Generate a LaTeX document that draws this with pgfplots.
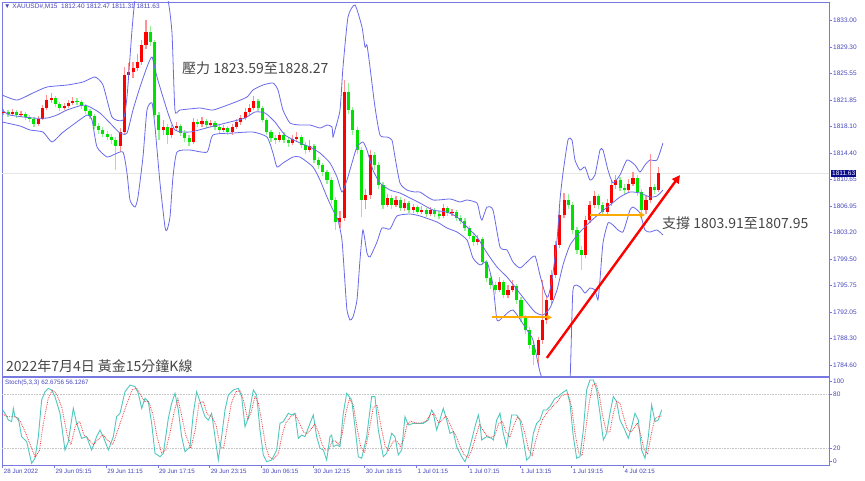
\documentclass[border=0pt]{standalone}
\usepackage{fontspec}
\setmainfont{Liberation Sans}
\newfontfamily\cjk{Noto Sans CJK TC}
\usepackage{pgfplots}
\usepackage{pgfplotstable}
\pgfplotsset{compat=1.18}
\usetikzlibrary{arrows.meta}

\definecolor{frameblue}{RGB}{120,120,225}
\definecolor{tickblue}{RGB}{70,70,190}
\definecolor{bband}{RGB}{105,105,235}
\definecolor{upbody}{RGB}{255,0,0}
\definecolor{upwick}{RGB}{255,145,145}
\definecolor{dnbody}{RGB}{0,225,0}
\definecolor{dnwick}{RGB}{145,240,145}
\definecolor{stk}{RGB}{80,200,190}
\definecolor{stdline}{RGB}{240,60,60}
\definecolor{notegray}{RGB}{70,70,70}
\definecolor{arroworange}{RGB}{255,170,0}
\definecolor{pricebox}{RGB}{10,10,140}

% 30-minute candles (two M15 bars each), k = candle index, u = 1 for a rising candle
\pgfplotstableread{
k o h l c u
0 1820.00 1820.60 1819.70 1820.17 1
1 1820.17 1820.50 1819.50 1819.88 0
2 1819.88 1820.60 1819.60 1820.17 1
3 1820.17 1820.40 1819.30 1819.74 0
4 1819.74 1820.30 1819.40 1819.88 1
5 1819.88 1820.10 1819.00 1819.46 0
6 1819.46 1819.80 1818.80 1819.18 0
7 1819.18 1819.40 1818.10 1818.48 0
8 1818.48 1819.60 1818.20 1819.18 1
9 1819.18 1821.10 1819.00 1820.73 1
10 1820.73 1822.50 1820.50 1821.85 1
11 1821.85 1822.80 1821.50 1822.13 1
12 1822.13 1822.40 1820.90 1821.29 0
13 1821.29 1821.60 1820.30 1820.73 0
14 1820.73 1821.50 1820.40 1821.01 1
15 1821.01 1821.90 1820.70 1821.43 1
16 1821.43 1822.30 1821.20 1821.71 1
17 1821.71 1822.10 1821.10 1821.57 0
18 1821.57 1821.90 1820.60 1821.01 0
19 1821.01 1821.30 1819.90 1820.31 0
20 1820.31 1820.60 1819.20 1819.60 0
21 1819.60 1819.90 1817.80 1818.20 0
22 1818.20 1818.60 1817.10 1817.64 0
23 1817.64 1818.00 1816.60 1817.07 0
24 1817.07 1817.50 1816.20 1816.65 0
25 1816.65 1817.10 1815.60 1816.23 0
26 1816.23 1816.60 1812.00 1815.39 0
27 1815.39 1817.90 1814.60 1817.40 1
28 1817.40 1826.50 1817.00 1825.37 1
29 1825.37 1827.00 1824.60 1825.79 1
30 1825.79 1827.20 1825.00 1826.35 1
31 1826.35 1828.30 1825.90 1827.19 1
32 1827.19 1830.30 1826.80 1829.58 1
33 1829.58 1833.10 1829.00 1831.41 1
34 1831.41 1832.20 1829.50 1830.01 0
35 1830.01 1830.30 1819.30 1819.74 0
36 1819.74 1820.20 1816.30 1817.64 0
37 1817.64 1819.00 1816.90 1818.06 1
38 1818.06 1818.50 1815.70 1816.93 0
39 1816.93 1818.40 1816.50 1817.92 1
40 1817.92 1818.80 1817.50 1818.20 1
41 1818.20 1818.50 1816.80 1817.21 0
42 1817.21 1817.60 1816.00 1816.51 0
43 1816.51 1816.90 1815.40 1815.95 0
44 1815.95 1819.30 1815.60 1818.76 1
45 1818.76 1819.20 1818.00 1818.48 0
46 1818.48 1819.40 1818.10 1818.90 1
47 1818.90 1819.20 1817.90 1818.34 0
48 1818.34 1819.10 1818.00 1818.62 1
49 1818.62 1818.90 1817.60 1818.06 0
50 1818.06 1818.40 1817.20 1817.64 0
51 1817.64 1818.40 1817.30 1817.92 1
52 1817.92 1818.20 1816.90 1817.35 0
53 1817.35 1818.50 1817.00 1818.06 1
54 1818.06 1819.20 1817.80 1818.76 1
55 1818.76 1819.80 1818.40 1819.32 1
56 1819.32 1820.70 1819.00 1820.17 1
57 1820.17 1821.30 1819.80 1820.73 1
58 1820.73 1822.40 1820.40 1821.71 1
59 1821.71 1822.00 1820.30 1820.73 0
60 1820.73 1821.00 1818.70 1819.04 0
61 1819.04 1819.30 1817.00 1817.35 0
62 1817.35 1817.70 1816.00 1816.51 0
63 1816.51 1817.00 1815.70 1816.23 0
64 1816.23 1817.40 1815.90 1816.93 1
65 1816.93 1817.30 1815.80 1816.23 0
66 1816.23 1816.70 1815.30 1815.81 0
67 1815.81 1816.90 1815.50 1816.37 1
68 1816.37 1817.40 1816.00 1816.65 1
69 1816.65 1817.00 1815.10 1815.53 0
70 1815.53 1815.90 1814.30 1814.82 0
71 1814.82 1816.30 1814.50 1815.39 1
72 1815.39 1815.70 1813.00 1813.42 0
73 1813.42 1813.90 1812.20 1812.72 0
74 1812.72 1813.00 1811.20 1811.73 0
75 1811.73 1812.00 1810.00 1810.61 0
76 1810.61 1811.00 1807.20 1807.80 0
77 1807.80 1808.20 1803.60 1804.70 0
78 1804.70 1806.20 1803.90 1805.30 1
79 1805.30 1824.66 1804.90 1822.98 1
80 1822.98 1824.30 1819.90 1820.45 0
81 1820.45 1820.90 1817.00 1817.64 0
82 1817.64 1818.00 1814.20 1814.82 0
83 1814.82 1815.30 1805.40 1807.80 0
84 1807.80 1809.40 1806.60 1808.50 1
85 1808.50 1814.80 1808.00 1814.12 1
86 1814.12 1814.60 1812.00 1812.72 0
87 1812.72 1813.10 1809.30 1809.90 0
88 1809.90 1810.30 1806.60 1807.09 0
89 1807.09 1808.70 1806.80 1808.08 1
90 1808.08 1808.50 1806.60 1807.09 0
91 1807.09 1808.40 1806.80 1807.80 1
92 1807.80 1808.20 1806.20 1806.67 0
93 1806.67 1807.90 1806.30 1807.37 1
94 1807.37 1807.70 1806.00 1806.39 0
95 1806.39 1807.30 1806.00 1806.81 1
96 1806.81 1807.10 1805.80 1806.11 0
97 1806.11 1806.90 1805.80 1806.39 1
98 1806.39 1806.70 1805.40 1805.83 0
99 1805.83 1806.80 1805.50 1806.39 1
100 1806.39 1806.70 1805.40 1805.83 0
101 1805.83 1806.20 1805.10 1805.55 0
102 1805.55 1807.20 1805.20 1806.67 1
103 1806.67 1807.00 1805.60 1805.97 0
104 1805.97 1806.60 1805.60 1806.11 1
105 1806.11 1806.40 1804.80 1805.27 0
106 1805.27 1805.70 1804.40 1804.84 0
107 1804.84 1805.20 1803.40 1803.86 0
108 1803.86 1804.20 1802.30 1802.74 0
109 1802.74 1803.10 1801.40 1801.89 0
110 1801.89 1802.90 1801.50 1802.30 1
111 1802.30 1802.60 1798.60 1799.08 0
112 1799.08 1799.40 1796.30 1796.83 0
113 1796.83 1797.40 1795.30 1795.85 0
114 1795.85 1796.30 1794.60 1795.14 0
115 1795.14 1797.00 1794.80 1796.27 1
116 1796.27 1796.60 1794.00 1794.44 0
117 1794.44 1795.80 1794.00 1795.14 1
118 1795.14 1796.60 1794.80 1795.71 1
119 1795.71 1796.00 1793.20 1793.74 0
120 1793.74 1794.10 1790.70 1791.21 0
121 1791.21 1791.60 1789.00 1789.52 0
122 1789.52 1789.90 1786.90 1787.41 0
123 1787.41 1787.80 1784.60 1786.01 0
124 1786.01 1788.60 1784.30 1788.12 1
125 1788.12 1796.50 1787.60 1790.93 1
126 1790.93 1794.40 1790.40 1793.74 1
127 1793.74 1797.90 1793.20 1797.25 1
128 1797.25 1802.10 1796.80 1801.47 1
129 1801.47 1806.50 1801.00 1805.69 1
130 1805.69 1808.80 1805.20 1807.80 1
131 1807.80 1808.60 1806.50 1807.09 0
132 1807.09 1807.50 1803.00 1803.58 0
133 1803.58 1804.00 1800.20 1800.77 0
134 1800.77 1801.30 1797.96 1800.06 0
135 1800.06 1805.50 1799.60 1804.98 1
136 1804.98 1807.70 1804.50 1807.09 1
137 1807.09 1809.00 1806.70 1808.36 1
138 1808.36 1808.70 1806.60 1807.09 0
139 1807.09 1807.50 1805.60 1806.11 0
140 1806.11 1808.00 1805.80 1807.37 1
141 1807.37 1810.50 1807.00 1809.90 1
142 1809.90 1811.30 1809.40 1810.61 1
143 1810.61 1811.00 1809.00 1809.48 0
144 1809.48 1810.00 1808.70 1809.20 0
145 1809.20 1810.70 1808.90 1810.05 1
146 1810.05 1811.80 1809.70 1810.89 1
147 1810.89 1811.30 1808.40 1808.92 0
148 1808.92 1809.30 1805.90 1806.39 0
149 1806.39 1808.30 1805.90 1807.80 1
150 1807.80 1814.26 1807.40 1809.62 1
151 1809.62 1810.10 1808.70 1809.20 0
152 1809.20 1812.47 1808.90 1811.63 1
}\candles

\pgfplotstableread{
k p
-0.4 1822.56
3.07 1821.85
6.78 1822.84
10.03 1823.68
14.67 1823.96
18.38 1824.38
21.16 1825.09
23.02 1823.96
25.11 1819.46
27.66 1819.04
28.59 1822.27
29.75 1831.69
30.45 1835.91
31.61 1837.60
33.93 1838.72
36.25 1838.02
38.10 1835.91
39.03 1831.27
39.72 1820.45
40.89 1820.45
45.53 1820.73
48.54 1820.45
53.18 1821.43
56.43 1822.27
57.82 1823.26
60.14 1823.96
62.46 1824.24
63.62 1823.26
64.78 1820.45
66.41 1818.62
68.73 1818.34
71.05 1818.34
73.37 1817.92
75.00 1818.34
76.15 1818.06
76.38 1816.65
76.85 1817.64
78.01 1820.45
78.71 1826.49
79.87 1833.52
81.49 1835.21
83.11 1832.11
83.81 1829.30
84.27 1829.58
84.97 1826.49
86.13 1820.87
87.29 1816.93
88.91 1816.65
90.07 1816.23
90.77 1813.84
91.93 1810.19
93.55 1809.20
95.41 1808.92
96.57 1808.92
99.59 1807.80
103.53 1807.94
105.85 1807.52
107.48 1807.80
109.80 1807.37
110.49 1805.69
110.96 1804.98
112.12 1806.81
113.51 1806.39
115.14 1801.19
116.76 1800.77
118.15 1799.08
119.77 1798.24
121.40 1799.08
123.25 1799.92
124.41 1797.25
125.57 1794.72
126.27 1794.16
127.20 1796.55
128.36 1802.17
129.05 1807.80
129.75 1811.59
130.91 1816.23
131.84 1816.23
132.53 1813.42
133.69 1812.01
134.85 1812.44
136.01 1810.61
137.17 1811.31
138.33 1814.82
139.03 1814.82
140.19 1812.01
141.35 1810.19
142.97 1811.31
144.60 1813.42
146.45 1812.72
147.61 1811.73
148.77 1812.72
149.93 1813.42
151.56 1813.42
152.95 1815.81
}\bbup

\pgfplotstableread{
k p
-0.4 1820.45
1.44 1819.74
6.78 1819.32
10.03 1819.32
12.35 1819.74
14.67 1820.45
18.38 1821.15
20.00 1820.87
22.32 1820.03
24.64 1818.62
26.96 1817.21
28.59 1817.21
29.98 1820.45
31.61 1823.68
33.23 1826.49
34.39 1827.90
35.55 1825.09
37.87 1820.45
39.72 1817.64
43.20 1817.35
47.84 1818.06
52.49 1818.76
55.97 1819.32
58.29 1820.17
60.61 1820.03
62.93 1818.76
65.25 1816.93
68.73 1815.81
71.05 1815.25
73.37 1814.40
75.69 1813.00
77.31 1811.03
78.47 1808.92
79.63 1810.61
80.79 1813.00
81.95 1815.25
83.34 1815.95
84.27 1814.82
85.66 1812.01
87.29 1810.19
89.61 1809.20
91.93 1808.78
94.25 1808.08
96.57 1807.37
99.59 1806.39
102.83 1806.11
105.15 1805.41
107.48 1804.00
109.80 1802.59
112.12 1800.35
114.44 1798.38
116.76 1796.97
118.62 1795.57
120.94 1793.74
123.25 1792.05
125.11 1791.63
126.73 1792.61
128.36 1795.15
129.75 1798.66
131.38 1801.47
133.69 1803.30
136.01 1804.70
138.33 1805.97
140.65 1807.09
142.97 1808.22
145.29 1808.92
147.61 1808.78
149.93 1808.22
151.56 1808.36
152.95 1809.20
}\bbmid

\pgfplotstableread{
k p
-0.4 1818.76
3.76 1818.20
6.08 1817.64
9.10 1817.35
11.19 1815.95
13.51 1817.21
15.36 1818.06
19.31 1819.74
20.47 1819.04
21.63 1815.25
23.95 1813.84
25.34 1814.12
27.66 1814.54
28.59 1811.59
29.29 1807.80
30.45 1806.81
31.14 1808.22
32.30 1813.84
33.23 1820.45
34.39 1821.43
35.09 1818.06
36.25 1810.19
37.41 1804.00
37.87 1803.58
38.57 1805.41
39.26 1811.03
40.19 1814.54
43.20 1814.82
47.15 1814.54
48.54 1816.93
53.18 1817.21
57.82 1817.35
61.07 1816.65
62.46 1814.40
63.39 1812.44
64.78 1813.00
67.10 1813.84
68.73 1813.84
71.74 1812.44
73.37 1810.61
74.99 1808.22
76.38 1806.39
77.54 1804.98
78.47 1802.17
79.17 1796.13
79.63 1792.33
80.33 1790.93
81.02 1791.35
81.95 1793.74
82.65 1799.36
83.34 1803.58
84.27 1800.35
84.97 1799.78
86.59 1801.89
87.75 1803.86
89.61 1803.72
91.23 1805.55
94.25 1805.83
96.57 1805.55
100.52 1804.70
102.83 1803.86
105.15 1803.30
107.48 1802.17
108.87 1799.64
110.49 1798.66
112.12 1799.08
113.51 1795.85
114.44 1790.93
115.83 1791.35
118.15 1792.33
121.40 1789.52
122.79 1788.12
124.41 1783.62
125.57 1781.79
127.89 1779.68
130.21 1780.38
131.38 1782.49
132.07 1795.15
133.69 1795.57
134.85 1794.72
136.01 1795.43
137.17 1795.15
137.86 1793.74
138.33 1796.55
139.03 1801.75
140.19 1804.56
141.35 1804.28
142.51 1803.58
143.67 1803.30
144.60 1804.98
145.29 1806.39
145.99 1806.81
147.61 1805.97
148.77 1803.58
149.93 1803.30
151.56 1803.58
152.95 1802.88
}\bblow

\pgfplotstableread{
k s
-0.30 62.6
0.28 58.9
1.06 51.4
1.83 49.6
2.22 64.4
2.60 55.1
3.38 53.3
4.15 32.9
5.31 27.4
6.47 3.3
7.24 8.9
8.02 32.9
8.79 73.7
9.56 82.9
10.34 86.6
11.11 84.8
11.88 77.4
13.04 58.9
14.20 18.1
14.98 27.4
16.14 64.4
16.91 47.7
18.07 31.1
19.23 32.9
20.39 18.1
21.55 32.9
22.33 40.3
23.10 32.9
24.26 18.1
25.42 32.9
26.19 55.1
26.97 58.9
28.13 82.9
29.29 90.3
30.45 88.5
31.22 81.1
32.00 64.4
32.77 75.5
33.54 71.8
34.31 47.7
35.09 14.4
36.25 10.7
37.02 14.4
38.18 53.3
38.95 70.0
39.73 81.1
40.50 62.6
41.27 32.9
42.05 16.3
43.21 21.8
43.98 58.9
44.75 82.9
45.91 66.3
46.69 55.1
47.46 51.4
48.23 58.9
49.01 32.9
49.78 7.0
50.55 32.9
51.33 62.6
52.10 79.2
53.26 84.8
54.42 86.6
55.19 77.4
55.97 44.0
56.74 53.3
57.90 84.8
58.67 79.2
59.45 40.3
60.22 12.6
61.00 5.1
62.16 7.0
63.32 18.1
64.09 47.7
64.86 49.6
66.02 58.9
66.80 57.0
67.57 58.9
68.34 31.1
69.12 34.8
69.89 32.9
71.05 47.7
71.82 57.0
72.60 32.9
73.37 20.0
74.14 18.1
74.92 7.0
75.69 32.9
76.08 34.8
76.46 21.8
77.24 23.7
78.01 21.8
78.78 58.9
79.56 81.1
80.72 73.7
81.49 44.0
82.26 10.7
83.04 8.9
84.20 32.9
85.36 77.4
86.13 77.4
86.90 40.3
88.06 10.7
88.84 14.4
90.00 36.6
90.77 32.9
91.54 12.6
92.32 18.1
93.09 55.1
93.86 45.9
95.02 47.7
96.18 47.7
97.34 47.7
98.50 51.4
99.28 62.6
99.66 58.9
100.44 40.3
101.21 52.0
101.98 64.4
102.76 51.4
103.53 36.6
104.30 38.5
105.08 21.8
106.24 10.7
107.01 5.1
107.78 14.4
108.56 29.2
109.33 44.0
110.10 57.0
110.49 47.7
110.88 29.2
112.04 32.9
113.20 31.1
113.58 29.2
114.36 51.4
115.13 58.9
115.90 36.6
116.68 21.8
117.84 57.0
119.00 57.0
119.77 51.4
120.55 29.2
121.32 7.0
122.09 10.7
122.87 36.6
123.64 47.7
124.41 51.4
125.19 62.6
125.96 62.6
126.73 66.3
127.89 75.5
128.67 77.4
129.44 81.1
130.60 84.8
131.37 70.0
132.15 32.9
132.92 8.9
133.69 10.7
134.47 40.3
135.24 84.8
136.01 95.9
136.79 95.9
137.56 84.8
138.33 58.9
139.11 29.2
139.88 36.6
140.65 58.9
141.43 77.4
142.20 71.8
142.97 51.4
143.75 44.0
144.91 31.1
145.68 44.0
146.45 58.9
147.23 51.4
148.00 18.1
148.78 8.9
149.55 32.9
150.32 68.1
151.10 49.6
151.87 51.4
152.64 62.7
}\stochK

\pgfplotstableread{
k s
-0.3 58
1.0 55
2.6 55
3.8 50
5.0 38
6.3 22
7.3 10
8.3 18
9.2 48
10.3 75
11.3 85
12.3 80
13.5 65
14.7 35
15.6 24
16.6 45
17.6 50
18.6 35
19.7 30
20.8 24
21.9 30
23.0 35
24.3 28
25.3 24
26.3 38
27.5 55
28.6 70
29.8 85
30.8 87
31.7 80
32.6 72
33.6 72
34.6 58
35.6 32
36.6 15
37.6 18
38.6 38
39.6 62
40.4 75
41.2 58
42.2 35
43.4 20
44.4 40
45.3 70
46.3 72
47.2 58
48.3 55
49.3 45
50.2 22
51.0 20
51.9 45
52.8 70
53.9 83
54.9 84
55.8 70
56.6 52
57.4 60
58.3 78
59.1 70
59.9 48
60.8 22
61.6 10
62.6 8
63.7 14
64.6 35
65.4 48
66.5 55
67.6 58
68.6 48
69.6 38
70.4 36
71.4 42
72.2 47
73.0 38
73.8 25
74.6 18
75.4 18
76.2 28
77.0 28
77.8 24
78.5 35
79.3 58
80.2 75
81.1 68
82.0 42
82.8 22
83.7 15
84.7 38
85.7 65
86.6 68
87.5 45
88.5 22
89.3 18
90.4 28
91.2 28
92.0 22
92.8 30
93.6 47
94.5 50
95.6 48
96.8 48
97.9 50
98.9 57
99.9 58
100.9 48
101.8 52
102.6 56
103.4 48
104.2 40
105.0 33
105.9 22
106.9 12
107.8 10
108.6 18
109.5 33
110.4 47
111.2 40
112.1 34
113.0 32
113.9 34
114.8 47
115.7 50
116.5 38
117.4 32
118.3 45
119.2 55
120.1 50
121.0 35
121.8 18
122.6 12
123.4 28
124.2 42
125.0 52
125.8 58
126.7 63
127.6 68
128.5 72
129.3 78
130.2 80
131.0 80
131.8 65
132.6 35
133.4 15
134.2 12
135.0 40
135.8 70
136.6 90
137.4 92
138.2 78
139.0 55
139.8 38
140.6 38
141.4 58
142.2 72
143.0 70
143.8 55
144.6 42
145.4 38
146.2 42
147.0 48
147.8 35
148.6 18
149.4 14
150.2 35
151.0 52
151.8 55
152.64 56.1
}\stochD

\begin{document}
\begin{tikzpicture}
\fill[white] (0pt,0pt) rectangle (865pt,480pt);
\path[use as bounding box] (0pt,0pt) rectangle (865pt,480pt);

% price panel
\begin{axis}[
  at={(2pt,104pt)}, anchor=south west, scale only axis,
  width=827pt, height=374pt,
  xmin=-0.41, xmax=191.47, ymin=1783.06, ymax=1835.63,
  xtick=\empty,
  ytick={1784.60,1788.30,1792.05,1795.75,1799.50,1803.20,1806.95,1810.65,1814.40,1818.10,1821.85,1825.55,1829.30,1833.00},
  yticklabels={1784.60,1788.30,1792.05,1795.75,1799.50,1803.20,1806.95,1810.65,1814.40,1818.10,1821.85,1825.55,1829.30,1833.00},
  ytick pos=right, yticklabel pos=right,
  tick align=outside, major tick length=3pt,
  yticklabel style={font=\fontsize{6.5}{7}\selectfont, text=tickblue, inner sep=1pt},
  axis line style={draw=frameblue, line width=0.9pt},
  tick style={draw=frameblue, line width=0.6pt},
]
  \draw[gray!20, line width=0.4pt] (axis cs:-0.41,1811.63) -- (axis cs:191.47,1811.63);
  % wicks (low to high); the other direction gets zero length
  \addplot[upwick, line width=1.2pt, forget plot,
    quiver={u=0, v=(\thisrow{h}-\thisrow{l})*\thisrow{u}}]
    table[x=k, y=l] {\candles};
  \addplot[dnwick, line width=1.2pt, forget plot,
    quiver={u=0, v=(\thisrow{h}-\thisrow{l})*(1-\thisrow{u})}]
    table[x=k, y=l] {\candles};
  % bodies (open to close)
  \addplot[upbody, line width=3.1pt, forget plot,
    quiver={u=0, v=(\thisrow{c}-\thisrow{o})*\thisrow{u}}]
    table[x=k, y=o] {\candles};
  \addplot[dnbody, line width=3.1pt, forget plot,
    quiver={u=0, v=(\thisrow{c}-\thisrow{o})*(1-\thisrow{u})}]
    table[x=k, y=o] {\candles};
  % Bollinger bands
  \addplot[bband, line width=0.8pt, smooth, tension=0.35, mark=none] table[x=k, y=p] {\bbup};
  \addplot[bband, line width=0.8pt, smooth, tension=0.35, mark=none] table[x=k, y=p] {\bbmid};
  \addplot[bband, line width=0.8pt, smooth, tension=0.35, mark=none] table[x=k, y=p] {\bblow};
  % annotations
  \draw[arroworange, line width=1.8pt, -{Triangle[length=5pt,width=5pt]}]
    (axis cs:113.3,1791.3) -- (axis cs:127.2,1791.3);
  \draw[arroworange, line width=1.8pt, -{Triangle[length=5pt,width=5pt]}]
    (axis cs:136.0,1805.7) -- (axis cs:148.8,1805.7);
  \draw[red, line width=2.4pt, -{Triangle[length=8pt,width=8pt]}]
    (axis cs:126.0,1785.6) -- (axis cs:156.9,1811.3);
\end{axis}

% stochastic panel
\begin{axis}[
  at={(2pt,15pt)}, anchor=south west, scale only axis,
  width=827pt, height=88pt,
  xmin=-0.41, xmax=191.47, ymin=1.44, ymax=99.2,
  xtick={-0.25,11.75,23.75,35.75,47.75,59.75,71.75,83.75,95.75,107.75,119.75,131.75,143.75},
  xticklabels={28 Jun 2022,29 Jun 05:15,29 Jun 11:15,29 Jun 17:15,29 Jun 23:15,30 Jun 06:15,30 Jun 12:15,30 Jun 18:15,1 Jul 01:15,1 Jul 07:15,1 Jul 13:15,1 Jul 19:15,4 Jul 02:15},
  xtick pos=bottom, xticklabel pos=bottom,
  ytick={5.1,20,80,94.8}, yticklabels={0,20,80,100},
  ytick pos=right, yticklabel pos=right,
  tick align=outside, major tick length=3pt,
  xticklabel style={font=\fontsize{6.2}{7}\selectfont, text=tickblue, anchor=north west, inner sep=1pt},
  yticklabel style={font=\fontsize{6.5}{7}\selectfont, text=tickblue, inner sep=1pt},
  axis line style={draw=frameblue, line width=0.9pt},
  tick style={draw=frameblue, line width=0.6pt},
]
  \draw[gray!45, densely dotted, line width=0.6pt] (axis cs:-0.41,20) -- (axis cs:191.47,20);
  \draw[gray!45, densely dotted, line width=0.6pt] (axis cs:-0.41,80) -- (axis cs:191.47,80);
  \addplot[stk, line width=0.9pt, mark=none] table[x=k, y=s] {\stochK};
  \addplot[stdline, line width=0.8pt, densely dotted, mark=none] table[x=k, y=s] {\stochD};
\end{axis}

% texts
\node[anchor=west, inner sep=0, font=\fontsize{6.5}{7}\selectfont, text=tickblue] at (4pt,473pt) {▼\ XAUUSD\#,M15\ \ 1812.40 1812.47 1811.31 1811.63};
\node[anchor=west, inner sep=0, font=\fontsize{6.3}{7}\selectfont, text=tickblue] at (5pt,97pt) {Stoch(5,3,3) 62.6756 56.1267};
\node[anchor=west, inner sep=0, font=\cjk\fontsize{14}{16}\selectfont, text=notegray] at (182pt,412pt) {壓力 1823.59至1828.27};
\node[anchor=west, inner sep=0, font=\cjk\fontsize{14}{16}\selectfont, text=notegray] at (662pt,257pt) {支撐 1803.91至1807.95};
\node[anchor=west, inner sep=0, font=\cjk\fontsize{14}{16}\selectfont, text=notegray] at (6pt,114pt) {2022年7月4日 黃金15分鐘K線};
\node[anchor=west, fill=pricebox, text=white, inner sep=1pt, font=\fontsize{6.5}{7}\selectfont] at (831pt,306.5pt) {1811.63};
\end{tikzpicture}
\end{document}
